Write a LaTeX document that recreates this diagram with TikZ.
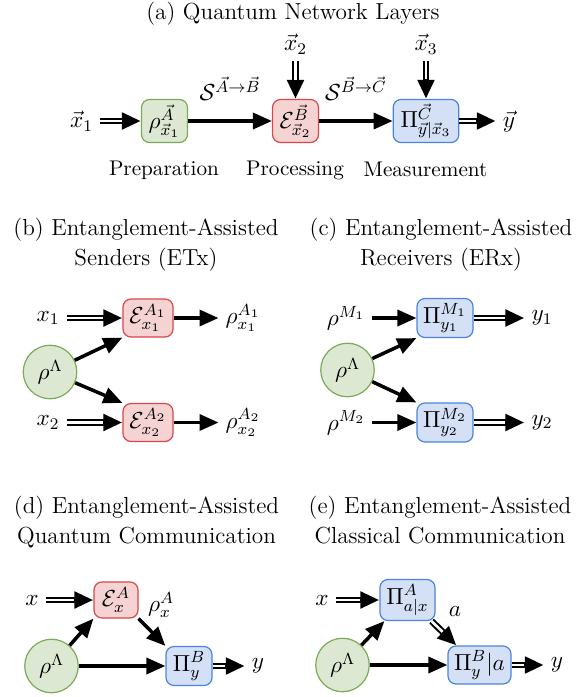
\RequirePackage{fix-cm}
\documentclass[tikz,border=0pt]{standalone}
\usetikzlibrary{arrows.meta}

\definecolor{gfill}{HTML}{DDE8D2}
\definecolor{gline}{HTML}{7BAA58}
\definecolor{rfill}{HTML}{F5D3D3}
\definecolor{rline}{HTML}{D9474A}
\definecolor{bfill}{HTML}{D4E0F6}
\definecolor{bline}{HTML}{4C84DD}

\tikzset{
  fb/.style={font=\fontsize{11.6}{15}\selectfont},
  fl/.style={font=\fontsize{10.6}{13}\selectfont},
  box/.style={rounded corners=4pt, line width=0.6pt, inner sep=2pt},
  prepbox/.style={box, draw=gline, fill=gfill},
  procbox/.style={box, draw=rline, fill=rfill},
  measbox/.style={box, draw=bline, fill=bfill},
  source/.style={circle, draw=gline, fill=gfill, line width=0.6pt,
                 minimum size=26.75pt, inner sep=0pt},
  head/.tip={Triangle[length=9.5pt,width=8pt]},
  % quantum channel: thick single line
  qarrow/.style={line width=1.75pt, -head},
  % classical channel: double line with a solid head
  carrow/.style={line width=3.3pt, -head,
                 postaction={draw=white, line width=1.3pt, -, shorten >=9.7pt}},
}

\begin{document}
\begin{tikzpicture}[x=0.5pt,y=-0.5pt]
\useasboundingbox (0,0) rectangle (587,697);

% ---------------- (a) layers ----------------
\node[fb, anchor=base] (ta) at (293,19) {(a) Quantum Network Layers};
\node[prepbox, fb, minimum width=23pt, minimum height=21.5pt] (prep) at (164.5,121) {$\rho^{\vec A}_{\vec x_1}$};
\node[procbox, fb, minimum width=23pt, minimum height=21.5pt] (proc) at (295.5,121) {$\mathcal{E}^{\vec B}_{\vec x_2}$};
\node[measbox, fb, minimum width=32.8pt, minimum height=21.5pt] (meas) at (426,121) {$\Pi^{\vec C}_{\vec y|\vec x_3}$};
\node[fb] (x1) at (81.5,121) {$\vec x_1$};
\node[fb] (x2) at (295.5,44) {$\vec x_2$};
\node[fb] (x3) at (426,44) {$\vec x_3$};
\node[fb] (yv) at (509,121) {$\vec y$};

\draw[carrow] (x1) -- (prep);
\draw[qarrow] (prep) -- node[above=6pt, fb] (sab) {$\mathcal{S}^{\vec A\to\vec B}$} (proc);
\draw[qarrow] (proc) -- node[above=6pt, fb] (sbc) {$\mathcal{S}^{\vec B\to\vec C}$} (meas);
\draw[carrow] (x2) -- (proc);
\draw[carrow] (x3) -- (meas);
\draw[carrow] (meas) -- (yv);

\node[fl, anchor=base] (lprep) at (164,175) {Preparation};
\node[fl, anchor=base] (lproc) at (295,175) {Processing};
\node[fl, anchor=base] (lmeas) at (425.5,176.5) {Measurement};

% ---------------- (b) senders ----------------
\node[fb, anchor=base] (tb1) at (146,235) {(b) Entanglement-Assisted};
\node[fb, anchor=base] (tb2) at (146,265) {Senders (ETx)};
\node[source, fb] (Lb) at (50,372) {$\rho^{\Lambda}$};
\node[procbox, fb, minimum width=25pt, minimum height=19pt] (Eb1) at (148,318) {$\mathcal{E}^{A_1}_{x_1}$};
\node[procbox, fb, minimum width=25pt, minimum height=19pt] (Eb2) at (148,422.5) {$\mathcal{E}^{A_2}_{x_2}$};
\node[fb] (xb1) at (48,318) {$x_1$};
\node[fb] (xb2) at (48,422.5) {$x_2$};
\node[fb] (rb1) at (243,318) {$\rho^{A_1}_{x_1}$};
\node[fb] (rb2) at (243,422.5) {$\rho^{A_2}_{x_2}$};

\draw[carrow] (xb1) -- (Eb1);
\draw[carrow] (xb2) -- (Eb2);
\draw[qarrow] (Lb) -- (Eb1.south west);
\draw[qarrow] (Lb) -- (Eb2.north west);
\draw[qarrow] (Eb1) -- (rb1);
\draw[qarrow] (Eb2) -- (rb2);

% ---------------- (c) receivers ----------------
\node[fb, anchor=base] (tc1) at (441,235) {(c) Entanglement-Assisted};
\node[fb, anchor=base] (tc2) at (441,265) {Receivers (ERx)};
\node[source, fb] (Lc) at (347.5,370) {$\rho^{\Lambda}$};
\node[measbox, fb, minimum width=28pt, minimum height=19.5pt] (Pc1) at (445,318) {$\Pi^{M_1}_{y_1}$};
\node[measbox, fb, minimum width=28pt, minimum height=19.5pt] (Pc2) at (445,422.5) {$\Pi^{M_2}_{y_2}$};
\node[fb] (rc1) at (346,318) {$\rho^{M_1}$};
\node[fb] (rc2) at (346,422.5) {$\rho^{M_2}$};
\node[fb] (yc1) at (542,318) {$y_1$};
\node[fb] (yc2) at (542,422.5) {$y_2$};

\draw[qarrow] (rc1) -- (Pc1);
\draw[qarrow] (rc2) -- (Pc2);
\draw[qarrow] (Lc) -- (Pc1.south west);
\draw[qarrow] (Lc) -- (Pc2.north west);
\draw[carrow] (Pc1) -- (yc1);
\draw[carrow] (Pc2) -- (yc2);

% ---------------- (d) quantum communication ----------------
\node[fb, anchor=base] (td1) at (146.5,513) {(d) Entanglement-Assisted};
\node[fb, anchor=base] (td2) at (146.5,543) {Quantum Communication};
\node[source, fb] (Ld) at (51.5,666) {$\rho^{\Lambda}$};
\node[procbox, fb, minimum width=22pt, minimum height=18pt] (Ed) at (116,600) {$\mathcal{E}^{A}_{x}$};
\node[measbox, fb, minimum width=23pt, minimum height=19.5pt] (Pd) at (189,666) {$\Pi^{B}_{y}$};
\node[fb] (xd) at (32,600) {$x$};
\node[fb] (rd) at (161,605) {$\rho^{A}_{x}$};
\node[fb] (yd) at (258,666) {$y$};

\draw[carrow] (xd) -- (Ed);
\draw[qarrow] (Ld) -- (Ed.south west);
\draw[qarrow] (Ed.south east) -- (Pd.north west);
\draw[qarrow] (Ld) -- (Pd);
\draw[carrow] (Pd) -- (yd);

% ---------------- (e) classical communication ----------------
\node[fb, anchor=base] (te1) at (440,513) {(e) Entanglement-Assisted};
\node[fb, anchor=base] (te2) at (440,543) {Classical Communication};
\node[source, fb] (Le) at (342.5,665) {$\rho^{\Lambda}$};
\node[measbox, fb, minimum width=27.5pt, minimum height=20.5pt] (Pe1) at (407.5,600) {$\Pi^{A}_{a|x}$};
\node[measbox, fb, minimum width=31.5pt, minimum height=19pt] (Pe2) at (479.5,665) {$\Pi^{B}_{y}|a$};
\node[fb] (xe) at (322,600) {$x$};
\node[fb] (ae) at (455,611) {$a$};
\node[fb] (ye) at (557,665) {$y$};

\draw[carrow] (xe) -- (Pe1);
\draw[qarrow] (Le) -- ([xshift=2.5pt]Pe1.south west);
\draw[carrow] ([xshift=-2pt]Pe1.south east) -- ([xshift=4.5pt]Pe2.north west);
\draw[qarrow] (Le) -- (Pe2);
\draw[carrow] (Pe2) -- (ye);
\end{tikzpicture}
\end{document}
